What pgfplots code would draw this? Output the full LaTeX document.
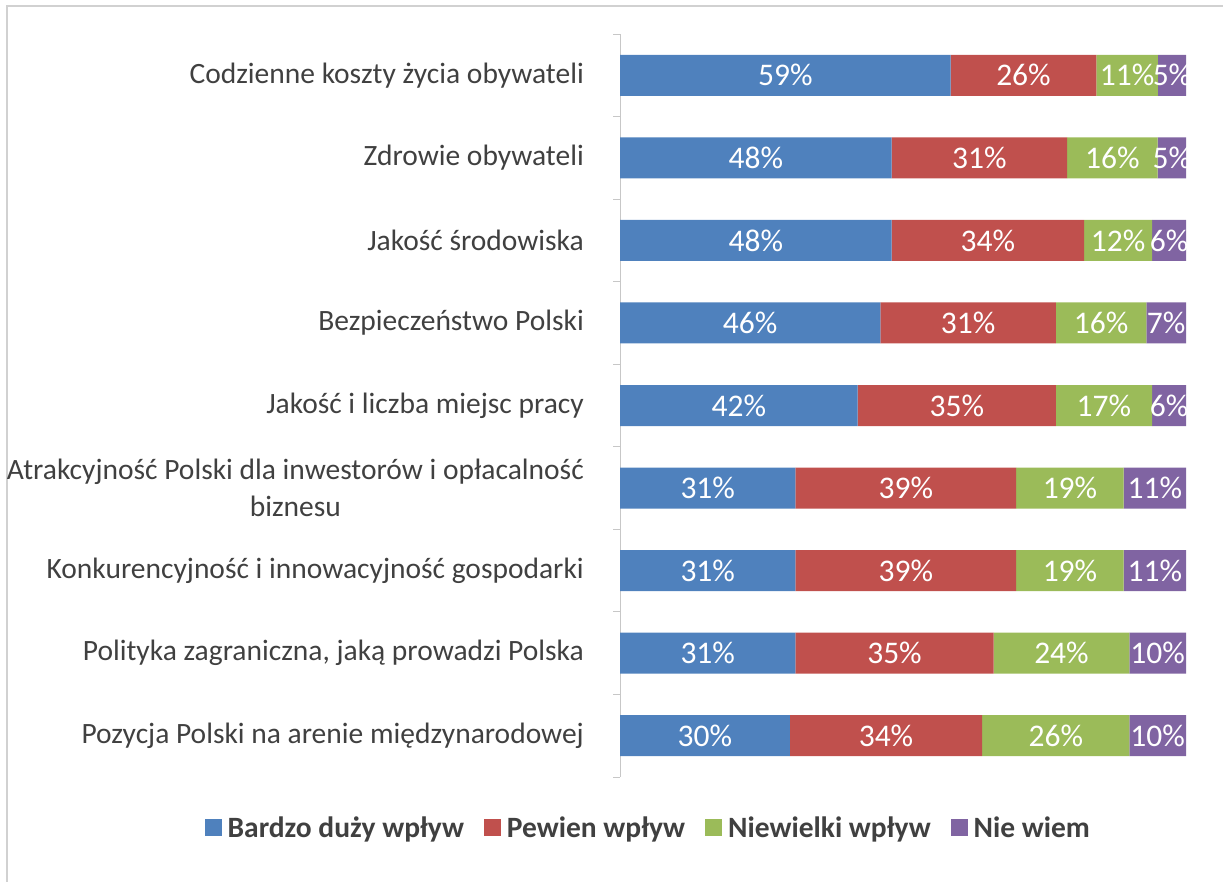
\documentclass[border=0pt]{standalone}
\usepackage{pgfplots}
\pgfplotsset{compat=1.18}
\usepackage{pgfplotstable}
\usepackage{fontspec}
\setmainfont{Carlito}
\definecolor{cB}{HTML}{4F81BD}
\definecolor{cR}{HTML}{C0504D}
\definecolor{cG}{HTML}{9BBB59}
\definecolor{cP}{HTML}{8064A2}
\definecolor{txt}{HTML}{404040}
\pgfplotstableread{
idx b r g p
0 59 26 11 5
1 48 31 16 5
2 48 34 12 6
3 46 31 16 7
4 42 35 17 6
5 31 39 19 11
6 31 39 19 11
7 31 35 24 10
8 30 34 26 10
}\datatable
\pgfplotsset{
  common/.style={at={(620pt,104pt)}, anchor=south west,
    scale only axis, width=566pt, height=743pt,
    xmin=0, xmax=100, ymin=-0.5, ymax=8.5, y dir=reverse},
}
\newcommand{\sumrow}{(\thisrow{b}+\thisrow{r}+\thisrow{g}+\thisrow{p})}
\begin{document}
\begin{tikzpicture}
\useasboundingbox (0pt,0pt) rectangle (1223pt,881pt);
\draw[line width=1.5pt, color=black!18] (7pt,-5pt) -- (7pt,875pt) -- (1230pt,875pt);
\begin{axis}[
  common,
  xbar stacked, bar width=41pt,
  axis x line=none, axis y line*=left,
  axis line style={black!22, line width=1pt},
  ytick={0,...,8},
  yticklabels={{Codzienne koszty życia obywateli},{Zdrowie obywateli},{Jakość środowiska},{Bezpieczeństwo Polski},{Jakość i liczba miejsc pracy},{Atrakcyjność Polski dla inwestorów i opłacalność\\biznesu},{Konkurencyjność i innowacyjność gospodarki},{Polityka zagraniczna, jaką prowadzi Polska},{Pozycja Polski na arenie międzynarodowej}},
  minor ytick={-0.5,0.5,...,8.5},
  major tick length=0pt, minor tick length=7pt,
  tick align=outside,
  minor tick style={black!22, line width=1pt},
  yticklabel style={font=\fontsize{29.5}{37}\selectfont, text=txt, align=center, inner sep=0pt, xshift=-36pt},
  legend columns=4,
  legend style={at={(0.05,-0.0686)}, anchor=center, draw=none, font=\bfseries\fontsize{29.5}{36}\selectfont, text=txt,
    /tikz/every odd column/.append style={column sep=4pt},
    /tikz/every even column/.append style={column sep=18pt}},
  legend image code/.code={\fill[#1] (0pt,-8.5pt) rectangle (17pt,8.5pt);},
]
\addplot[fill=cB, draw=none] table[x expr={100*\thisrow{b}/\sumrow}, y=idx] {\datatable};
\addlegendentry{Bardzo duży wpływ}
\addplot[fill=cR, draw=none] table[x expr={100*\thisrow{r}/\sumrow}, y=idx] {\datatable};
\addlegendentry{Pewien wpływ}
\addplot[fill=cG, draw=none] table[x expr={100*\thisrow{g}/\sumrow}, y=idx] {\datatable};
\addlegendentry{Niewielki wpływ}
\addplot[fill=cP, draw=none] table[x expr={100*\thisrow{p}/\sumrow}, y=idx] {\datatable};
\addlegendentry{Nie wiem}
\end{axis}
\begin{axis}[
  common, hide axis,
  point meta=explicit,
  nodes near coords={\pgfmathprintnumber[assume math mode=true]{\pgfplotspointmeta}\%},
  every node near coord/.append style={font=\fontsize{31.5}{36}\selectfont, text=white, anchor=center, inner sep=0pt},
]
\addplot[draw=none, mark=none] table[x expr={100*(\thisrow{b}/2)/\sumrow}, y=idx, meta=b] {\datatable};
\addplot[draw=none, mark=none] table[x expr={100*(\thisrow{b}+\thisrow{r}/2)/\sumrow}, y=idx, meta=r] {\datatable};
\addplot[draw=none, mark=none] table[x expr={100*(\thisrow{b}+\thisrow{r}+\thisrow{g}/2)/\sumrow}, y=idx, meta=g] {\datatable};
\addplot[draw=none, mark=none] table[x expr={100*(\thisrow{b}+\thisrow{r}+\thisrow{g}+\thisrow{p}/2)/\sumrow}, y=idx, meta=p] {\datatable};
\end{axis}
\end{tikzpicture}
\end{document}
